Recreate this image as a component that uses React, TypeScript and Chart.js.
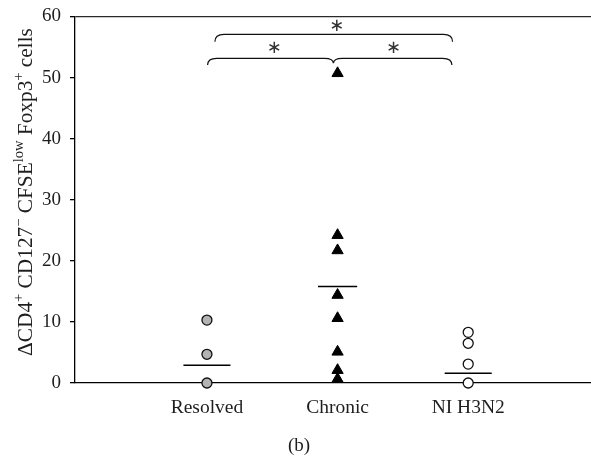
import React, { useEffect, useRef } from "react";
import { Chart, registerables } from "chart.js";

Chart.register(...registerables);

const categories = ["Resolved", "Chronic", "NI H3N2"];
const resolvedValues = [10.3, 4.7, 0];
const chronicValues = [50.7, 24.2, 21.7, 14.4, 10.6, 5.1, 2.1, 0.65];
const niValues = [8.3, 6.5, 3.1, 0];
const groupMeans = [2.9, 15.8, 1.6];
const yTicks = [0, 10, 20, 30, 40, 50, 60];
const meanHalfWidths = [0.18, 0.15, 0.18];

// significance brackets (data units)
const brackets = [
  { x0: 1.005, x1: 2.875, cusp: 1.968, yFlat: 53.16, yEnd: 52.06, yTip: 52.34 },
  { x0: 1.061, x1: 2.88, cusp: null as number | null, yFlat: 57.09, yEnd: 55.88, yTip: 0 },
];
const stars = [
  { x: 1.994, y: 58.45 },
  { x: 1.516, y: 54.8 },
  { x: 2.428, y: 54.8 },
];

const FONT = "'Liberation Serif', 'Times New Roman', serif";
const TEXT = "#1e1e1e";

const yTitleSegments: [string, boolean][] = [
  ["\u0394CD4", false],
  ["+", true],
  [" CD127", false],
  ["\u2212", true],
  [" CFSE", false],
  ["low", true],
  [" Foxp3", false],
  ["+", true],
  [" cells", false],
];

const annotationPlugin = {
  id: "annotations",
  afterDraw(chart: any) {
    const { ctx, scales } = chart;
    const xs = scales.x;
    const ys = scales.y;
    ctx.save();
    // brackets
    ctx.strokeStyle = "#111";
    ctx.lineWidth = 1.2;
    const r = 9;
    brackets.forEach((b) => {
      const x0 = xs.getPixelForValue(b.x0);
      const x1 = xs.getPixelForValue(b.x1);
      const yf = ys.getPixelForValue(b.yFlat);
      const ye = ys.getPixelForValue(b.yEnd);
      ctx.beginPath();
      ctx.moveTo(x0, ye);
      ctx.quadraticCurveTo(x0, yf, x0 + r, yf);
      if (b.cusp !== null) {
        const xc = xs.getPixelForValue(b.cusp);
        const yt = ys.getPixelForValue(b.yTip);
        ctx.lineTo(xc - r, yf);
        ctx.quadraticCurveTo(xc, yf, xc, yt);
        ctx.quadraticCurveTo(xc, yf, xc + r, yf);
      }
      ctx.lineTo(x1 - r, yf);
      ctx.quadraticCurveTo(x1, yf, x1, ye);
      ctx.stroke();
    });
    // stars
    ctx.fillStyle = "#333";
    ctx.font = "18px 'DejaVu Sans', sans-serif";
    ctx.textAlign = "center";
    ctx.textBaseline = "middle";
    stars.forEach((s) => {
      ctx.fillText("\u2217", xs.getPixelForValue(s.x), ys.getPixelForValue(s.y));
    });
    // y title (fit to target length)
    const target = 328;
    let size = 18;
    const measure = (sz: number) => {
      let t = 0;
      yTitleSegments.forEach(([txt, sup]) => {
        ctx.font = `${sup ? sz * 0.68 : sz}px ${FONT}`;
        t += ctx.measureText(txt).width;
      });
      return t;
    };
    size = (size * target) / measure(size);
    const total = measure(size);
    ctx.translate(32, 192);
    ctx.rotate(-Math.PI / 2);
    ctx.textAlign = "left";
    ctx.textBaseline = "alphabetic";
    ctx.fillStyle = TEXT;
    let cx = -total / 2;
    yTitleSegments.forEach(([t, sup]) => {
      ctx.font = `${sup ? size * 0.68 : size}px ${FONT}`;
      ctx.fillText(t, cx, sup ? -size * 0.4 : 0);
      cx += ctx.measureText(t).width;
    });
    ctx.restore();
    // panel label
    ctx.save();
    ctx.fillStyle = TEXT;
    ctx.font = `19px ${FONT}`;
    ctx.textAlign = "center";
    ctx.textBaseline = "middle";
    ctx.fillText("(b)", 299, 446);
    ctx.restore();
  },
};

export default function App() {
  const ref = useRef<HTMLCanvasElement>(null);
  useEffect(() => {
    document.body.style.margin = "0";
    const pts = (vals: number[], i: number) => vals.map((v) => ({ x: i + 1, y: v }));
    const meanSets = groupMeans.map((m, i) => ({
      type: "scatter" as const,
      data: [
        { x: i + 1 - meanHalfWidths[i], y: m },
        { x: i + 1 + meanHalfWidths[i], y: m },
      ],
      showLine: true,
      borderColor: "#000",
      borderWidth: 1.5,
      pointRadius: 0,
      clip: false as any,
    }));
    const chart = new Chart(ref.current!, {
      type: "scatter",
      data: {
        datasets: [
          ...meanSets,
          {
            data: pts(resolvedValues, 0),
            pointStyle: "circle",
            pointRadius: 5,
            backgroundColor: "#b3b3b3",
            borderColor: "#111",
            borderWidth: 1.3,
            clip: false as any,
          },
          {
            data: pts(chronicValues, 1),
            pointStyle: "triangle",
            pointRadius: 6.5,
            backgroundColor: "#000",
            borderColor: "#000",
            borderWidth: 1,
            clip: false as any,
          },
          {
            data: pts(niValues, 2),
            pointStyle: "circle",
            pointRadius: 5,
            backgroundColor: "#fff",
            borderColor: "#111",
            borderWidth: 1.3,
            clip: false as any,
          },
        ],
      },
      options: {
        responsive: false,
        animation: false,
        layout: { autoPadding: false, padding: { top: 16.5, right: 0, left: 0, bottom: 0 } },
        plugins: { legend: { display: false }, tooltip: { enabled: false } },
        scales: {
          x: {
            type: "linear",
            min: -0.01,
            max: 3.94,
            afterBuildTicks: (s: any) => {
              s.ticks = categories.map((_, i) => ({ value: i + 1 }));
            },
            afterFit: (s: any) => {
              s.height = 74;
              s.paddingLeft = 0;
              s.paddingRight = 0;
            },
            ticks: {
              callback: (v: any) => categories[Number(v) - 1] ?? "",
              font: { family: FONT, size: 19.5 },
              color: TEXT,
              padding: 5,
              maxRotation: 0,
              autoSkip: false,
            },
            grid: { display: false },
            border: { display: true, color: "#000", width: 1.3 },
          },
          y: {
            type: "linear",
            min: 0,
            max: 60,
            afterBuildTicks: (s: any) => {
              s.ticks = yTicks.map((v) => ({ value: v }));
            },
            afterFit: (s: any) => {
              s.width = 75;
              s.paddingTop = 0;
              s.paddingBottom = 0;
            },
            ticks: {
              font: { family: FONT, size: 19 },
              color: TEXT,
              padding: 9,
            },
            grid: {
              color: (c: any) => (c.tick && c.tick.value === 60 ? "#2a2a2a" : "rgba(0,0,0,0)"),
              tickColor: "#000",
              tickLength: 5,
              lineWidth: 1.3,
            },
            border: { display: true, color: "#000", width: 1.3 },
          },
        },
      },
      plugins: [annotationPlugin],
    });
    return () => chart.destroy();
  }, []);
  return (
    <div style={{ width: 591, height: 457 }}>
      <canvas ref={ref} width={591} height={457} />
    </div>
  );
}
